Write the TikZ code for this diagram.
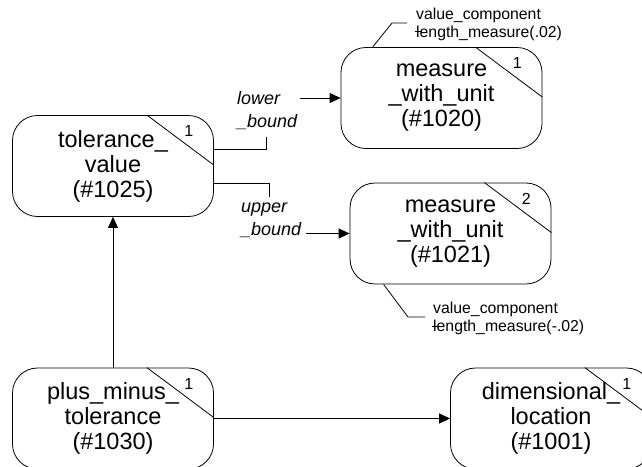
\documentclass[tikz,border=0pt]{standalone}
\usepackage{fontspec}
\setmainfont{Liberation Sans}
\usetikzlibrary{arrows.meta,calc}
\begin{document}
\begin{tikzpicture}[x=1pt,y=-1pt,
  entity/.style={draw, rounded corners=25pt, minimum width=201pt, minimum height=101pt,
    align=center, font=\fontsize{23.5}{25}\selectfont, inner sep=0pt, line width=0.8pt},
  num/.style={font=\fontsize{16}{18}\selectfont, inner sep=0pt},
  role/.style={font=\fontsize{18}{23}\selectfont\itshape, align=left, inner sep=0pt, anchor=west},
  note/.style={font=\fontsize{15.8}{18}\selectfont, align=left, inner sep=0pt, anchor=west},
  conn/.style={line width=0.8pt},
  arr/.style={conn, -{Triangle[length=11pt,width=10pt]}}]
\useasboundingbox (0,0) rectangle (642,466);

% entities
\node[entity] (tv) at (113,166) {tolerance\_\\value\\(\#1025)};
\node[entity] (m1) at (441.5,98) {measure\\\_with\_unit\\(\#1020)};
\node[entity] (m2) at (450.5,233.5) {measure\\\_with\_unit\\(\#1021)};
\node[entity] (pm) at (113,418.5) {plus\_minus\_\\tolerance\\(\#1030)};
\node[entity] (dl) at (551,418.5) {dimensional\_\\location\\(\#1001)};

% corner diagonals and numbers
\foreach \n/\k in {tv/1,m1/1,m2/2,pm/1,dl/1}{
  \draw[conn] ($(\n.north east)+(-67,0)$) -- ($(\n.north east)+(0,50)$);
  \node[num] (\n num) at ($(\n.north east)+(-25,16)$) {\k};
}

% lower bound
\coordinate (lbA) at (266,137);
\draw[conn] ($(tv.north east)+(0,34)$) -| (lbA);
\node[role] (lb) at (237,111) {lower\\\_bound};
\draw[arr] ($(lb.east |- m1.west)+(3,0)$) -- (m1.west);

% upper bound
\coordinate (ubA) at (269,197);
\draw[conn] ($(tv.north east)+(0,68)$) -| (ubA);
\node[role] (ub) at (241,220.5) {upper\\\_bound};
\draw[arr] ($(ub.east |- m2.west)+(5,0)$) -- (m2.west);

% relationships
\draw[arr] (pm.north) -- (tv.south);
\draw[arr] (pm.east) -- (dl.west);

% value annotations
\coordinate (n1a) at (392,23);
\coordinate (n1b) at (407,23);
\draw[conn] ($(m1.north west)+(32,0)$) -- (n1a) -- (n1b);
\node[note] (n1) at (416,24) {value\_component\\\makebox[0pt][l]{\hspace{-0.08em}\rule[0.32em]{0.42em}{0.055em}}length\_measure(.02)};

\coordinate (n2a) at (408,317);
\coordinate (n2b) at (425,317);
\draw[conn] ($(m2.south west)+(34,0)$) -- (n2a) -- (n2b);
\node[note] (n2) at (433,318.5) {value\_component\\\makebox[0pt][l]{\hspace{-0.08em}\rule[0.32em]{0.42em}{0.055em}}length\_measure(-.02)};
\end{tikzpicture}
\end{document}
